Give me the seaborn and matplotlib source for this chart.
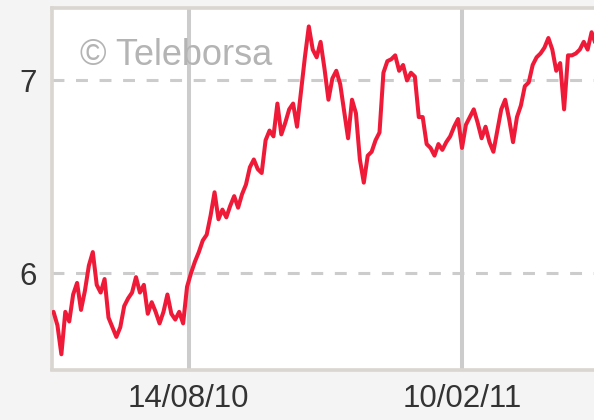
import pandas as pd
import matplotlib
matplotlib.use("Agg")
import matplotlib.pyplot as plt
import matplotlib.dates as mdates
import seaborn as sns

# closing prices (about one point every 2.6 days)
prices = [5.80, 5.73, 5.58, 5.80, 5.75, 5.89, 5.95, 5.81, 5.91, 6.04,
          6.11, 5.94, 5.90, 5.97, 5.77, 5.72, 5.67, 5.72, 5.83, 5.87,
          5.90, 5.98, 5.90, 5.94, 5.79, 5.85, 5.80, 5.74, 5.80, 5.89,
          5.79, 5.76, 5.80, 5.74, 5.93, 6.00, 6.06, 6.11, 6.17, 6.20,
          6.30, 6.42, 6.28, 6.33, 6.29, 6.35, 6.40, 6.34, 6.41, 6.46,
          6.55, 6.59, 6.54, 6.52, 6.69, 6.74, 6.71, 6.88, 6.72, 6.78,
          6.85, 6.88, 6.76, 6.94, 7.12, 7.28, 7.16, 7.12, 7.20, 7.06,
          6.90, 7.01, 7.05, 6.98, 6.84, 6.70, 6.90, 6.83, 6.59, 6.47,
          6.61, 6.63, 6.69, 6.73, 7.04, 7.10, 7.11, 7.13, 7.05, 7.08,
          7.00, 7.04, 7.02, 6.81, 6.81, 6.67, 6.65, 6.61, 6.67, 6.64,
          6.68, 6.71, 6.76, 6.80, 6.65, 6.77, 6.81, 6.85, 6.78, 6.70,
          6.76, 6.68, 6.63, 6.74, 6.85, 6.90, 6.80, 6.68, 6.81, 6.87,
          6.97, 6.99, 7.08, 7.12, 7.14, 7.17, 7.22, 7.16, 7.05, 7.09,
          6.85, 7.13, 7.13, 7.14, 7.16, 7.20, 7.16, 7.25, 7.19]
first_day = "2010-05-17"
last_day = "2011-05-09"
tick_days = ["2010-08-14", "2011-02-10"]
tick_labels = ["14/08/10", "10/02/11"]
y_ticks = [6, 7]

df = pd.DataFrame({
    "date": pd.date_range(first_day, last_day, periods=len(prices)),
    "price": prices,
})

sns.set_style("white")
font = ["Liberation Sans", "DejaVu Sans"]
plt.rcParams["font.family"] = font

fig = plt.figure(figsize=(5.94, 4.2), dpi=100, facecolor="#f4f4f4")
ax = fig.add_axes([52 / 594, 50.5 / 420, 1 - 52 / 594, 361 / 420])
ax.set_facecolor("white")

sns.lineplot(data=df, x="date", y="price", ax=ax, color="#ef1a38",
             linewidth=2.9, zorder=3)

ax.set_xlim(pd.Timestamp("2010-05-16"), pd.Timestamp("2011-05-08"))
ax.set_ylim(5.501, 7.373)

ax.set_xticks([mdates.date2num(pd.Timestamp(d)) for d in tick_days])
ax.set_xticklabels(tick_labels)
ax.set_yticks(y_ticks)
ax.set_yticklabels([str(v) for v in y_ticks])
ax.set_xlabel("")
ax.set_ylabel("")

# grid: solid verticals, dashed horizontals
ax.grid(False)
for d in tick_days:
    ax.axvline(pd.Timestamp(d), color="#cccccc", linewidth=2.9, zorder=2)
for v in y_ticks:
    ax.axhline(v, color="#cccccc", linewidth=2.2, dashes=(3.9, 3.8), zorder=2)

ax.tick_params(axis="x", length=7.5, width=2.9, color="#cccccc", pad=3,
               labelsize=22.5, labelcolor="#333333")
ax.tick_params(axis="y", length=10, width=2.2, color="#cccccc", pad=1,
               labelsize=22.5, labelcolor="#333333")

for side, sp in ax.spines.items():
    sp.set_color("#d9d6d1")
    sp.set_linewidth(2.6)
    sp.set_visible(side != "right")

fig.text(80 / 594, 1 - 65 / 420, "© Teleborsa", color="#b4b4b4",
         fontsize=26, va="baseline", ha="left", family=font)

fig.savefig("out.png", dpi=100, facecolor=fig.get_facecolor())
